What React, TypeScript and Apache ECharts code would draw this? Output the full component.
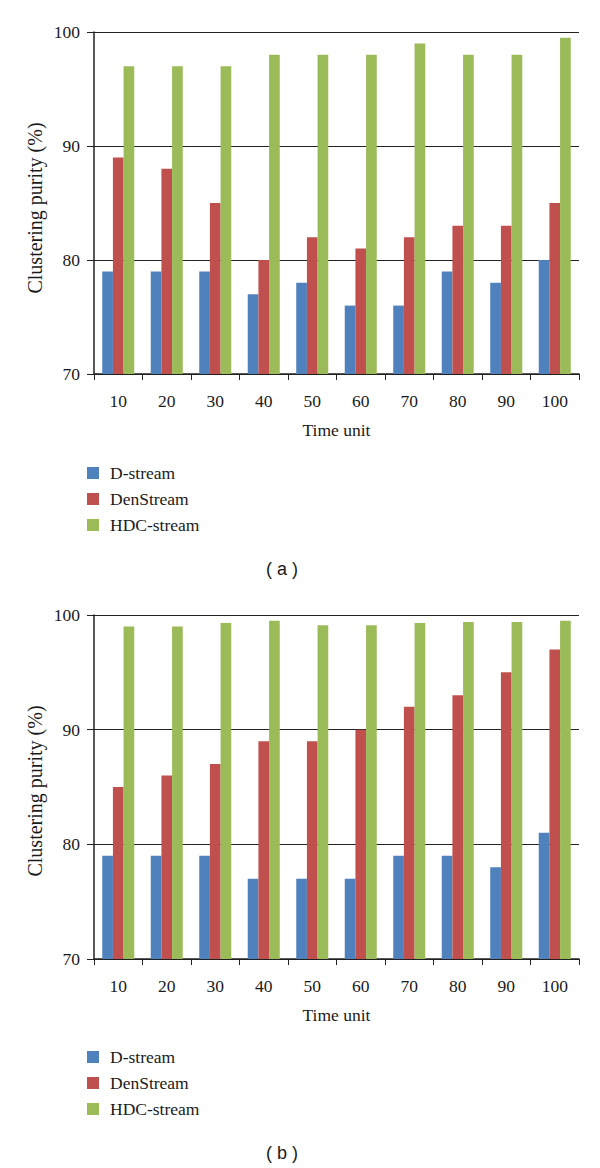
import React, { useEffect, useRef } from "react";
import * as echarts from "echarts";

const categories = ["10", "20", "30", "40", "50", "60", "70", "80", "90", "100"];
const seriesNames = ["D-stream", "DenStream", "HDC-stream"];
const colors = ["#4F81BD", "#C0504D", "#9BBB59"];

// Panel (a)
const dStreamA = [79, 79, 79, 77, 78, 76, 76, 79, 78, 80];
const denStreamA = [89, 88, 85, 80, 82, 81, 82, 83, 83, 85];
const hdcStreamA = [97, 97, 97, 98, 98, 98, 99, 98, 98, 99.5];

// Panel (b)
const dStreamB = [79, 79, 79, 77, 77, 77, 79, 79, 78, 81];
const denStreamB = [85, 86, 87, 89, 89, 90, 92, 93, 95, 97];
const hdcStreamB = [99, 99, 99.3, 99.5, 99.1, 99.1, 99.3, 99.4, 99.4, 99.5];

const yMin = 70;
const yMax = 100;
const yInterval = 10;

const serif = "'Liberation Serif', 'DejaVu Serif', serif";
const textColor = "#1a1a1a";
const lineColor = "#222";

export default function App() {
  const ref = useRef<HTMLDivElement>(null);

  useEffect(() => {
    if (!ref.current) return;
    const chart = echarts.init(ref.current, undefined, { renderer: "svg" });

    const grids = [
      { left: 94, top: 32, width: 485, height: 342 },
      { left: 94, top: 615, width: 485, height: 344 },
    ];

    const makeX = (gridIndex: number) => ({
      type: "category",
      gridIndex,
      data: categories,
      boundaryGap: true,
      name: "Time unit",
      nameLocation: "middle",
      nameGap: 47,
      nameTextStyle: { fontFamily: serif, fontSize: 17.5, color: textColor },
      axisLine: { show: true, lineStyle: { color: lineColor, width: 1.5 } },
      axisTick: { show: true, alignWithLabel: false, length: 6, inside: false, lineStyle: { color: lineColor } },
      axisLabel: { fontFamily: serif, fontSize: 17.5, color: textColor, margin: 18, interval: 0 },
      splitLine: { show: false },
    });

    const makeY = (gridIndex: number) => ({
      type: "value",
      gridIndex,
      min: yMin,
      max: yMax,
      interval: yInterval,
      axisLine: { show: true, lineStyle: { color: lineColor, width: 1.5 } },
      axisTick: { show: true, length: 7, inside: false, lineStyle: { color: lineColor } },
      axisLabel: { fontFamily: serif, fontSize: 17.5, color: textColor, margin: 14 },
      splitLine: { show: true, lineStyle: { color: lineColor, width: 1.2 } },
    });

    const dataSets = [
      [dStreamA, denStreamA, hdcStreamA],
      [dStreamB, denStreamB, hdcStreamB],
    ];

    const series: any[] = [];
    dataSets.forEach((set, gi) => {
      set.forEach((vals, si) => {
        series.push({
          type: "bar",
          name: seriesNames[si],
          xAxisIndex: gi,
          yAxisIndex: gi,
          data: vals,
          barGap: "0%",
          barCategoryGap: "34%",
          itemStyle: { color: colors[si] },
        });
      });
    });

    const makeLegend = (top: number) => ({
      orient: "vertical",
      left: 82,
      top,
      itemWidth: 12,
      itemHeight: 12,
      itemGap: 8,
      icon: "rect",
      selectedMode: false,
      data: seriesNames,
      textStyle: { fontFamily: serif, fontSize: 17.5, color: textColor, padding: [0, 0, 0, 6] },
    });

    const yName = (cy: number) => ({
      type: "text",
      x: 35,
      y: cy,
      rotation: Math.PI / 2,
      style: {
        text: "Clustering purity (%)",
        font: `20px ${serif}`,
        fill: textColor,
        textAlign: "center",
        textVerticalAlign: "middle",
      },
    });

    const caption = (text: string, cy: number) => ({
      type: "text",
      x: 282,
      y: cy,
      style: {
        text,
        font: "18px 'Liberation Sans', Arial, sans-serif",
        fill: textColor,
        textAlign: "center",
        textVerticalAlign: "middle",
      },
    });

    chart.setOption({
      animation: false,
      backgroundColor: "#ffffff",
      grid: grids,
      xAxis: [makeX(0), makeX(1)],
      yAxis: [makeY(0), makeY(1)],
      legend: [makeLegend(459), makeLegend(1043)],
      series,
      graphic: [yName(208), yName(791), caption("( a )", 569), caption("( b )", 1153)],
    });

    return () => chart.dispose();
  }, []);

  return (
    <div
      ref={ref}
      style={{ position: "absolute", left: 0, top: 0, width: 600, height: 1168, background: "#fff" }}
    />
  );
}
